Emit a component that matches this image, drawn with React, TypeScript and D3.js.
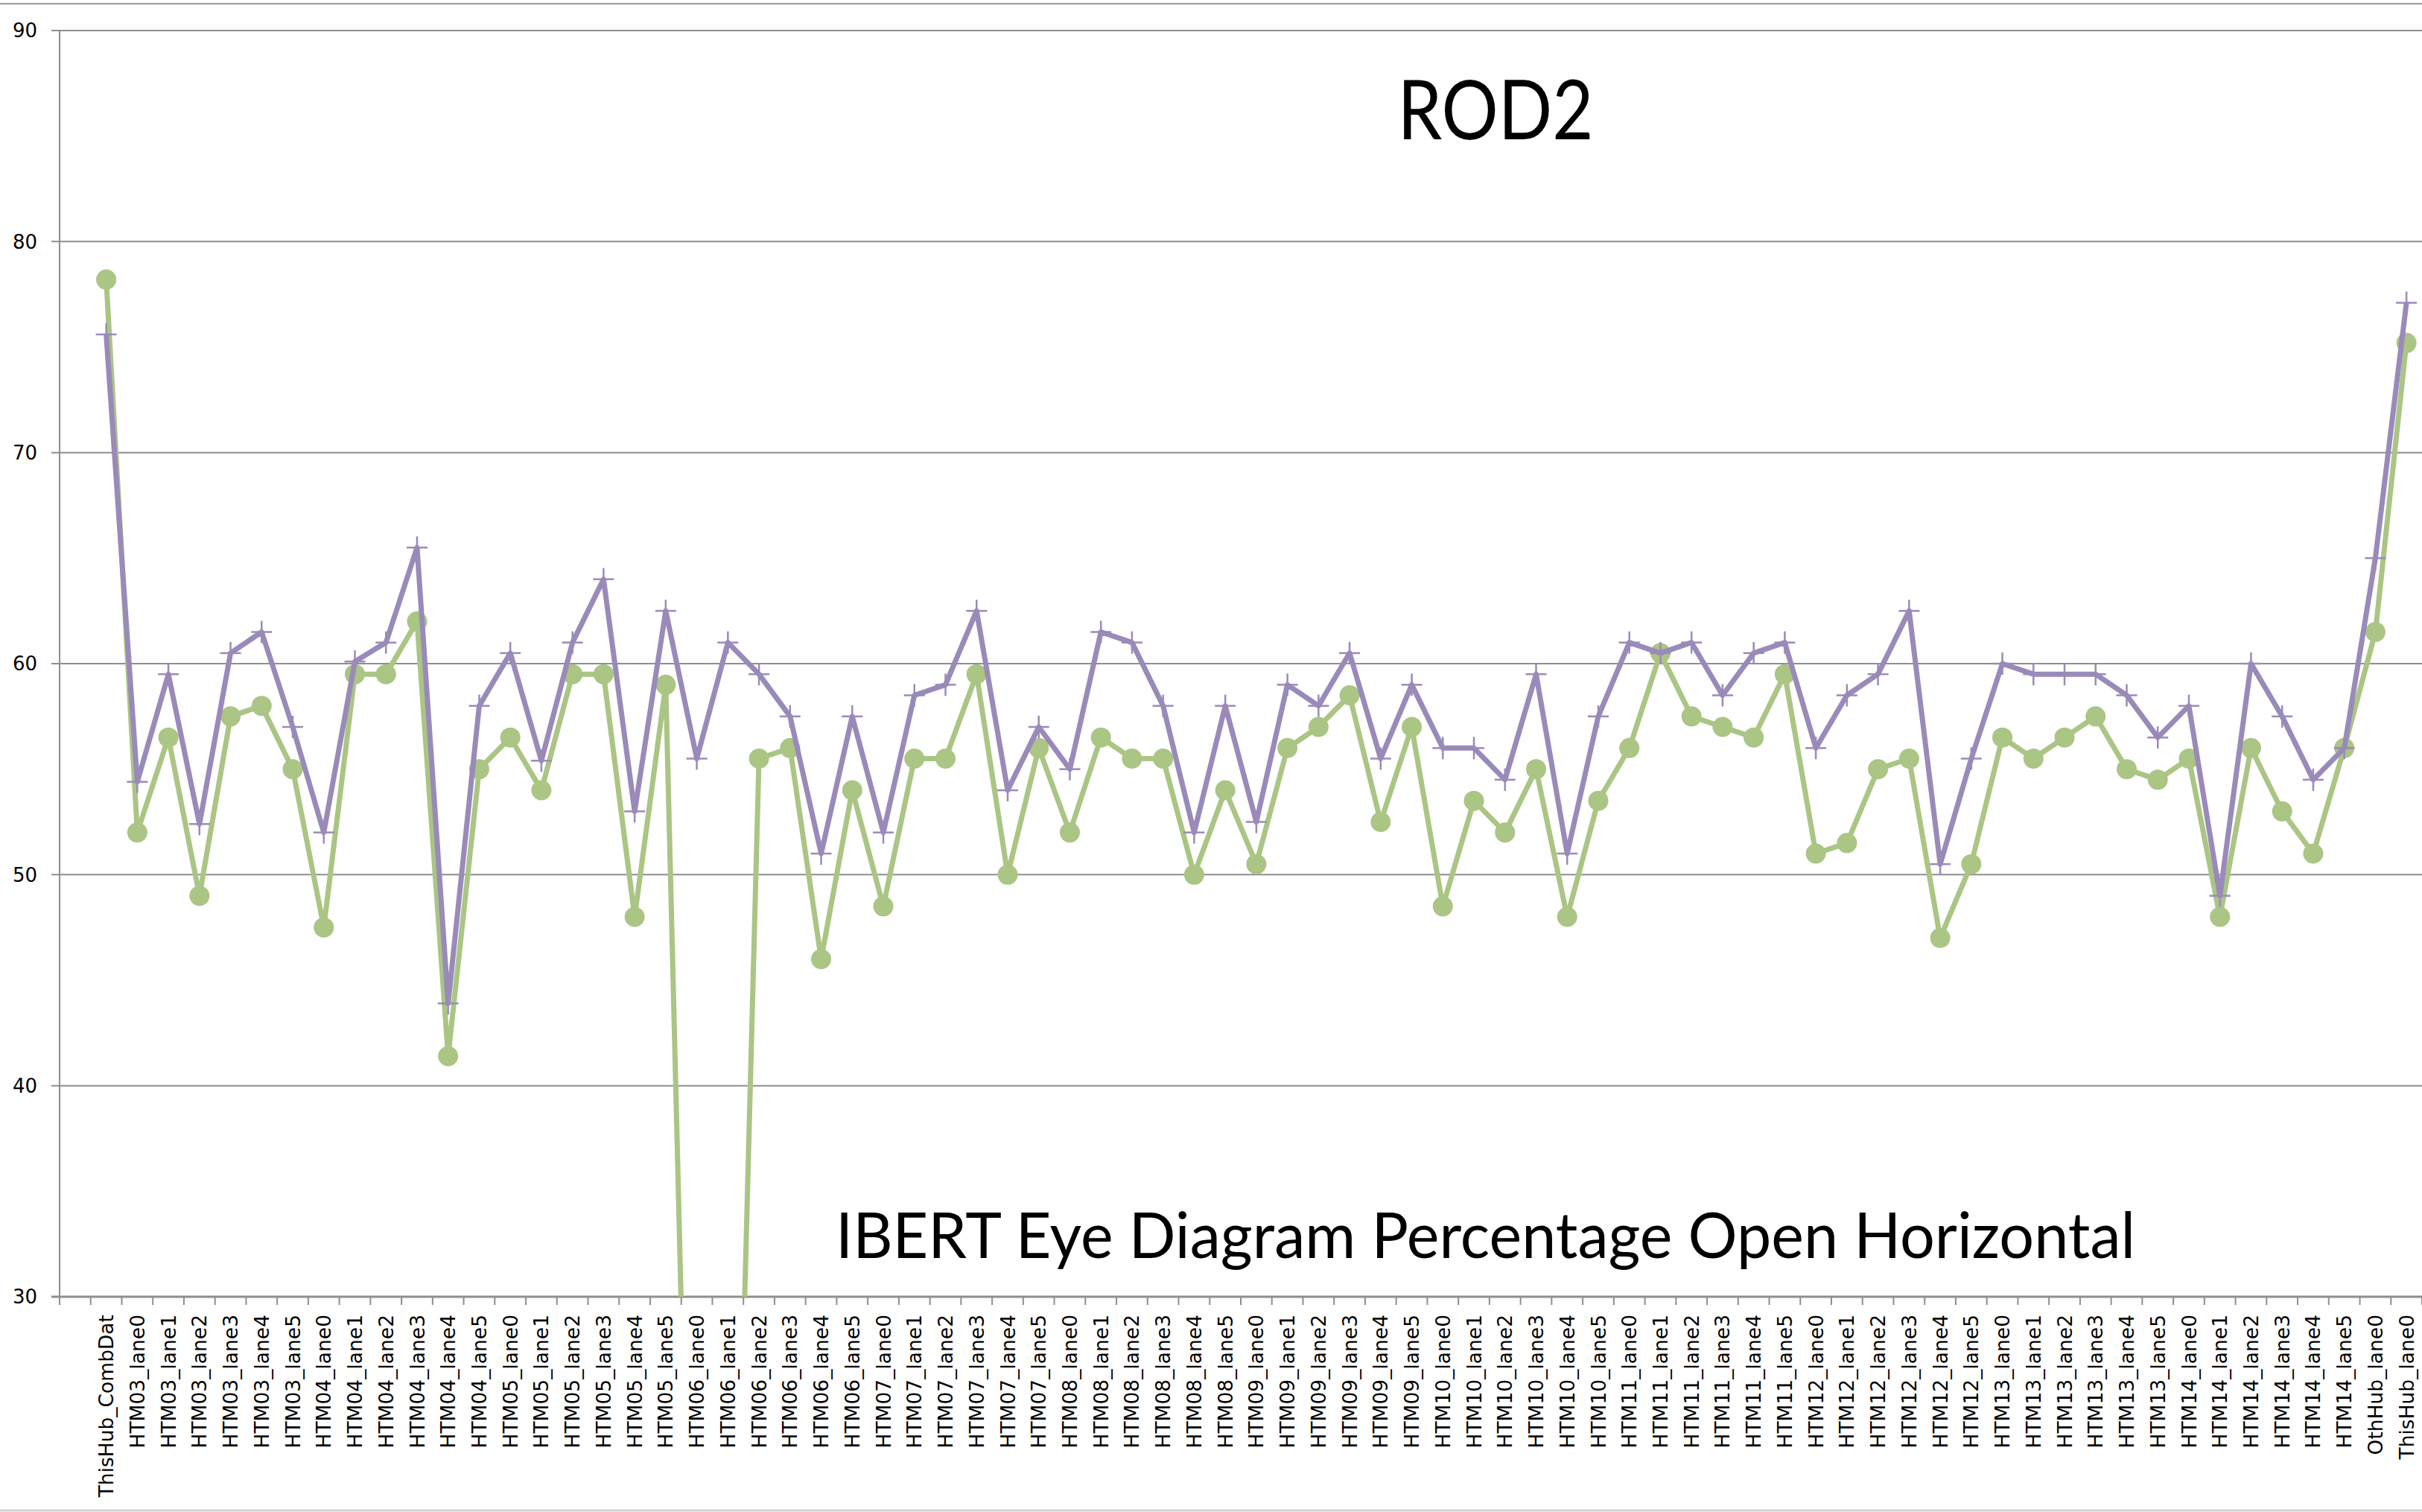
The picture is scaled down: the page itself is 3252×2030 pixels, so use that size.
import React from "react";
import * as d3 from "d3";

const categories = [
  "ThisHub_CombDat",
  "HTM03_lane0", "HTM03_lane1", "HTM03_lane2", "HTM03_lane3", "HTM03_lane4", "HTM03_lane5",
  "HTM04_lane0", "HTM04_lane1", "HTM04_lane2", "HTM04_lane3", "HTM04_lane4", "HTM04_lane5",
  "HTM05_lane0", "HTM05_lane1", "HTM05_lane2", "HTM05_lane3", "HTM05_lane4", "HTM05_lane5",
  "HTM06_lane0", "HTM06_lane1", "HTM06_lane2", "HTM06_lane3", "HTM06_lane4", "HTM06_lane5",
  "HTM07_lane0", "HTM07_lane1", "HTM07_lane2", "HTM07_lane3", "HTM07_lane4", "HTM07_lane5",
  "HTM08_lane0", "HTM08_lane1", "HTM08_lane2", "HTM08_lane3", "HTM08_lane4", "HTM08_lane5",
  "HTM09_lane0", "HTM09_lane1", "HTM09_lane2", "HTM09_lane3", "HTM09_lane4", "HTM09_lane5",
  "HTM10_lane0", "HTM10_lane1", "HTM10_lane2", "HTM10_lane3", "HTM10_lane4", "HTM10_lane5",
  "HTM11_lane0", "HTM11_lane1", "HTM11_lane2", "HTM11_lane3", "HTM11_lane4", "HTM11_lane5",
  "HTM12_lane0", "HTM12_lane1", "HTM12_lane2", "HTM12_lane3", "HTM12_lane4", "HTM12_lane5",
  "HTM13_lane0", "HTM13_lane1", "HTM13_lane2", "HTM13_lane3", "HTM13_lane4", "HTM13_lane5",
  "HTM14_lane0", "HTM14_lane1", "HTM14_lane2", "HTM14_lane3", "HTM14_lane4", "HTM14_lane5",
  "OthHub_lane0", "ThisHub_lane0",
];

// purple series (plus markers)
const seriesPurple = [
  75.6, 54.4, 59.5, 52.4, 60.5, 61.5, 57.0, 52.0, 60.1, 61.0, 65.5, 43.9, 58.0, 60.5, 55.4,
  61.0, 64.0, 53.0, 62.5, 55.5, 61.0, 59.5, 57.5, 51.0, 57.5, 52.0, 58.5, 59.0, 62.5, 54.0,
  57.0, 55.0, 61.5, 61.0, 58.0, 52.0, 58.0, 52.5, 59.0, 58.0, 60.5, 55.5, 59.0, 56.0, 56.0,
  54.5, 59.5, 51.0, 57.5, 61.0, 60.5, 61.0, 58.5, 60.5, 61.0, 56.0, 58.5, 59.5, 62.5, 50.5,
  55.5, 60.0, 59.5, 59.5, 59.5, 58.5, 56.5, 58.0, 49.0, 60.0, 57.5, 54.5, 56.0, 65.0, 77.1,
];

// green series (circle markers)
const seriesGreen = [
  78.2, 52.0, 56.5, 49.0, 57.5, 58.0, 55.0, 47.5, 59.5, 59.5, 62.0, 41.4, 55.0, 56.5, 54.0,
  59.5, 59.5, 48.0, 59.0, 0, 0, 55.5, 56.0, 46.0, 54.0, 48.5, 55.5, 55.5, 59.5, 50.0,
  56.0, 52.0, 56.5, 55.5, 55.5, 50.0, 54.0, 50.5, 56.0, 57.0, 58.5, 52.5, 57.0, 48.5, 53.5,
  52.0, 55.0, 48.0, 53.5, 56.0, 60.5, 57.5, 57.0, 56.5, 59.5, 51.0, 51.5, 55.0, 55.5, 47.0,
  50.5, 56.5, 55.5, 56.5, 57.5, 55.0, 54.5, 55.5, 48.0, 56.0, 53.0, 51.0, 56.0, 61.5, 75.2,
];

const yTicks = [30, 40, 50, 60, 70, 80, 90];

const chartTitle = "ROD2";
const chartSubtitle = "IBERT Eye Diagram Percentage Open Horizontal";

const W = 3252;
const H = 2030;
const PURPLE = "#9A8AB9";
const GREEN = "#AAC584";
const GRID = "#8E8E8E";

export default function App() {
  const x = d3
    .scaleBand<string>()
    .domain(["", ...categories])
    .range([80, 3252])
    .paddingInner(0)
    .paddingOuter(0);
  const bw = x.bandwidth();
  const cx = (c: string) => (x(c) as number) + bw / 2;
  const y = d3.scaleLinear().domain([30, 90]).range([1741, 41]);

  const line = d3
    .line<number>()
    .x((_, i) => cx(categories[i]))
    .y((d) => y(d));

  const x0 = x.range()[0];
  const yBottom = y(30);
  const yTop = y(90);
  const bandEdges = d3.range(categories.length + 2).map((k) => x0 + k * bw);

  return (
    <svg
      width={W}
      height={H}
      style={{ position: "absolute", left: 0, top: 0, display: "block" }}
    >
      <defs>
        <clipPath id="plotClip">
          <rect x={x0} y={0} width={W - x0} height={yBottom - 0} />
        </clipPath>
      </defs>
      <rect x={0} y={0} width={W} height={H} fill="#ffffff" />
      {/* chart area border */}
      <line x1={0} x2={W} y1={5} y2={5} stroke="#9a9a9a" strokeWidth={2} />
      <line x1={0} x2={W} y1={2028} y2={2028} stroke="#d4d4d4" strokeWidth={3} />

      {/* gridlines + y ticks */}
      {yTicks.map((t) => (
        <g key={t}>
          <line
            x1={x0 - 11}
            x2={W}
            y1={y(t)}
            y2={y(t)}
            stroke={GRID}
            strokeWidth={t === 30 ? 3 : 2}
          />
          <text
            x={50}
            y={y(t)}
            dy="0.36em"
            textAnchor="end"
            fontFamily="DejaVu Sans"
            fontSize={26}
            fill="#000"
          >
            {t}
          </text>
        </g>
      ))}
      {/* y axis */}
      <line x1={x0} x2={x0} y1={yTop} y2={yBottom} stroke={GRID} strokeWidth={2} />
      {/* x ticks */}
      {bandEdges.map((e, k) => (
        <line key={k} x1={e} x2={e} y1={yBottom} y2={yBottom + 11} stroke={GRID} strokeWidth={2} />
      ))}
      {/* category labels */}
      {categories.map((c) => (
        <text
          key={c}
          transform={`translate(${cx(c)},${yBottom + 24}) rotate(-90)`}
          dy="0.36em"
          textAnchor="end"
          fontFamily="DejaVu Sans"
          fontSize={26.5}
          fill="#000"
        >
          {c}
        </text>
      ))}

      {/* titles */}
      <text
        x={2008}
        y={187}
        textAnchor="middle"
        fontFamily="Lato"
        fontSize={110}
        textLength={263}
        lengthAdjust="spacingAndGlyphs"
        fill="#000"
      >
        {chartTitle}
      </text>
      <text
        x={1122}
        y={1689}
        fontFamily="Lato"
        fontSize={86}
        textLength={1745}
        lengthAdjust="spacingAndGlyphs"
        fill="#000"
      >
        {chartSubtitle}
      </text>

      <g clipPath="url(#plotClip)">
        {/* green series */}
        <path d={line(seriesGreen) || ""} fill="none" stroke={GREEN} strokeWidth={7} strokeLinejoin="round" />
        {seriesGreen.map((v, i) => (
          <circle key={"g" + i} cx={cx(categories[i])} cy={y(v)} r={13.5} fill={GREEN} />
        ))}
        {/* purple series */}
        <path d={line(seriesPurple) || ""} fill="none" stroke={PURPLE} strokeWidth={7} strokeLinejoin="round" />
        {seriesPurple.map((v, i) => {
          const px = cx(categories[i]);
          const py = y(v);
          return (
            <g key={"p" + i} stroke={PURPLE} strokeWidth={2.5}>
              <line x1={px - 14} x2={px + 14} y1={py} y2={py} />
              <line x1={px} x2={px} y1={py - 15} y2={py + 15} />
            </g>
          );
        })}
      </g>
    </svg>
  );
}
